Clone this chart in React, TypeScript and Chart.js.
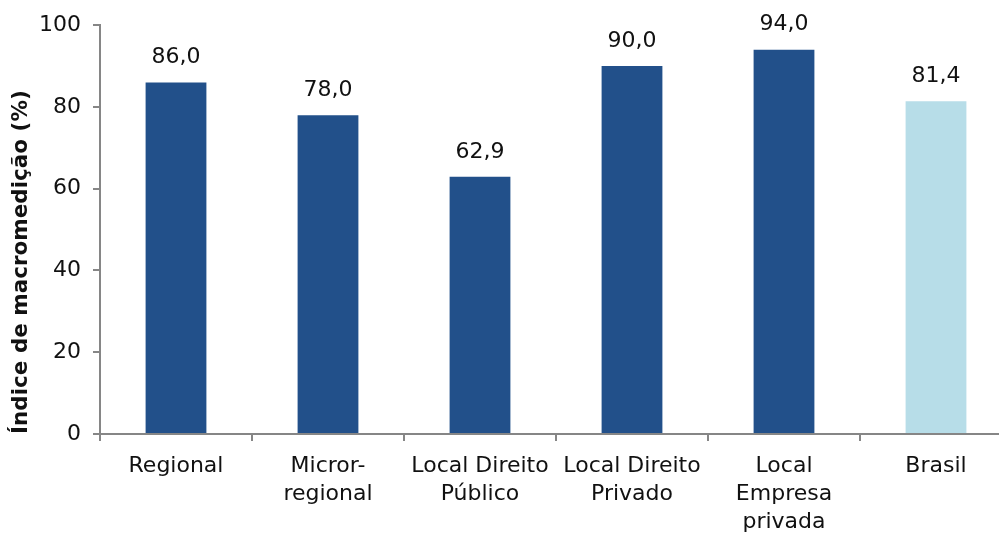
import React, { useEffect, useRef } from "react";
import { Chart, registerables } from "chart.js";

Chart.register(...registerables);

const categories: (string | string[])[] = [
  "Regional",
  ["Micror-", "regional"],
  ["Local Direito", "Público"],
  ["Local Direito", "Privado"],
  ["Local", "Empresa", "privada"],
  "Brasil",
];
const values: number[] = [86.0, 78.0, 62.9, 90.0, 94.0, 81.4];
const barColors: string[] = ["#22508A", "#22508A", "#22508A", "#22508A", "#22508A", "#B7DDE8"];
const yTicks: number[] = [0, 20, 40, 60, 80, 100];
const yTitle = "Índice de macromedição (%)";

const FONT = "'DejaVu Sans', sans-serif";

const labelPlugin = {
  id: "valueLabels",
  afterDatasetsDraw(chart: any) {
    const ctx = chart.ctx;
    const meta = chart.getDatasetMeta(0);
    ctx.save();
    ctx.font = `22px ${FONT}`;
    ctx.fillStyle = "#111111";
    ctx.textAlign = "center";
    ctx.textBaseline = "middle";
    meta.data.forEach((bar: any, i: number) => {
      ctx.fillText(values[i].toFixed(1).replace(".", ","), bar.x, bar.y - 25);
    });
    ctx.restore();
  },
};

export default function App() {
  const ref = useRef<HTMLCanvasElement>(null);
  useEffect(() => {
    if (!ref.current) return;
    const chart = new Chart(ref.current, {
      type: "bar",
      data: {
        labels: categories,
        datasets: [
          {
            data: values,
            backgroundColor: barColors,
            barPercentage: 0.4,
            categoryPercentage: 1,
          },
        ],
      },
      options: {
        animation: false,
        responsive: false,
        maintainAspectRatio: false,
        layout: { padding: { top: 25, right: 0, left: 0, bottom: 0 } },
        plugins: { legend: { display: false }, tooltip: { enabled: false } },
        scales: {
          x: {
            afterFit: (s: any) => {
              s.height = 101;
            },
            grid: {
              offset: true,
              drawOnChartArea: false,
              drawTicks: true,
              tickLength: 7,
              color: "#868686",
              lineWidth: 2,
            },
            border: { display: true, color: "#868686", width: 2 },
            ticks: {
              color: "#111111",
              font: { family: FONT, size: 22, lineHeight: 1.27 },
              padding: 11,
              maxRotation: 0,
              autoSkip: false,
            },
          },
          y: {
            min: 0,
            max: 100,
            afterFit: (s: any) => {
              s.width = 100;
            },
            afterBuildTicks: (s: any) => {
              s.ticks = yTicks.map((v) => ({ value: v }));
            },
            grid: {
              drawOnChartArea: false,
              drawTicks: true,
              tickLength: 7,
              color: "#868686",
              lineWidth: 2,
            },
            border: { display: true, color: "#868686", width: 2 },
            ticks: {
              color: "#111111",
              font: { family: FONT, size: 22 },
              padding: 12,
            },
            title: {
              display: true,
              text: yTitle,
              align: "start",
              color: "#111111",
              font: { family: FONT, size: 21.5, weight: "bold" },
              padding: { top: 9, bottom: 0 },
            },
          },
        },
      },
      plugins: [labelPlugin],
    });
    return () => chart.destroy();
  }, []);
  return (
    <div
      style={{
        position: "absolute",
        left: 0,
        top: 0,
        width: 999,
        height: 535,
        overflow: "hidden",
        background: "#ffffff",
      }}
    >
      <canvas ref={ref} width={1012} height={535} style={{ display: "block" }} />
    </div>
  );
}
